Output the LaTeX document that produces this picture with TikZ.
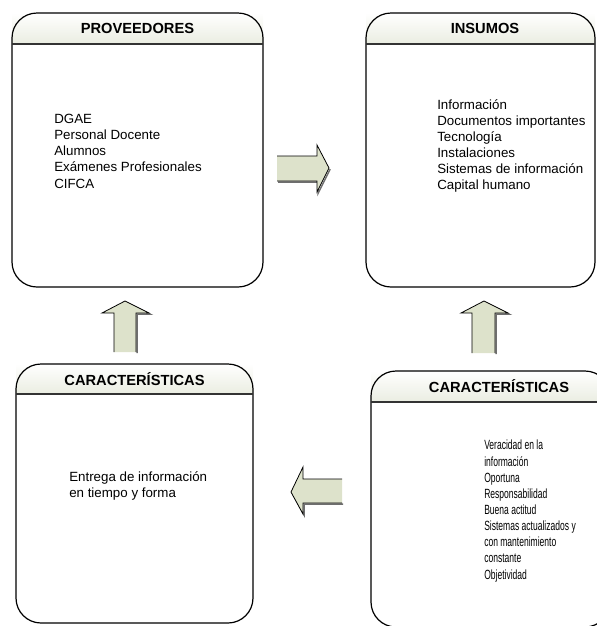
\documentclass[tikz,border=0pt]{standalone}
\usepackage{fontspec}
\setmainfont{Liberation Sans}
\newfontfamily\estrecha[FakeStretch=0.64]{Liberation Sans}
\definecolor{relleno}{RGB}{221,226,203}
\definecolor{encabezado}{RGB}{234,237,225}
\definecolor{sombra}{RGB}{110,110,110}
\tikzset{
  caja/.style={draw=black, line width=0.9pt, rounded corners=18.75pt},
  divisor/.style={draw=black!80, line width=1pt},
  titulo/.style={font=\bfseries\fontsize{11}{13}\selectfont, inner sep=0pt},
  lista/.style={font=\fontsize{10}{12.1}\selectfont, align=left, anchor=north west, inner sep=0pt},
  lista estrecha/.style={lista, font=\estrecha\fontsize{10}{12.1}\selectfont},
  flecha/.style={fill=relleno},
  borde/.style={draw=black, line width=0.6pt, line join=miter},
  borde sombra/.style={draw=sombra, line width=1.1pt, shift={(1.2,1.2)}}
}
\begin{document}
\begin{tikzpicture}[x=0.75pt, y=-0.75pt]
  \useasboundingbox (0,0) rectangle (597,626);
  \clip (0,0) rectangle (597,626);
  % encabezados
  \shade[top color=white, bottom color=encabezado] (12,13) rectangle (263,44);
  \shade[top color=white, bottom color=encabezado] (366,13) rectangle (595,44);
  \shade[top color=white, bottom color=encabezado] (16,364) rectangle (253,394);
  \shade[top color=white, bottom color=encabezado] (371,371) rectangle (610,402);
  % cajas
  \draw[caja] (12,13) rectangle (263,287);
  \draw[divisor] (12,44) -- (263,44);
  \draw[caja] (366,13) rectangle (595,287);
  \draw[divisor] (366,44) -- (595,44);
  \draw[caja] (16,364) rectangle (253,623);
  \draw[divisor] (16,394) -- (253,394);
  \draw[caja] (371,371) rectangle (610,627);
  \draw[divisor] (371,402) -- (610,402);
  % titulos
  \node[titulo] (tprov) at (137.5,28.5) {PROVEEDORES};
  \node[titulo] (tins) at (485,28.5) {INSUMOS};
  \node[titulo] (tcar1) at (134.5,379.5) {CARACTERÍSTICAS};
  \node[titulo] (tcar2) at (499,386) {CARACTERÍSTICAS};
  % contenido
  \node[lista] (prov) at (54,114) {DGAE\\Personal Docente\\Alumnos\\Exámenes Profesionales\\CIFCA};
  \node[lista] (ins) at (437,99) {Información\\Documentos importantes\\Tecnología\\Instalaciones\\Sistemas de información\\Capital humano};
  \node[lista] (car1) at (69,471) {Entrega de información\\en tiempo y forma};
  \node[lista estrecha] (car2) at (484,440) {Veracidad en la\\información\\Oportuna\\Responsabilidad\\Buena actitud\\Sistemas actualizados y\\con mantenimiento\\constante\\Objetividad};
  % flecha derecha
  \draw[borde sombra] (277,181) -- (317,181) -- (317,192) -- (329,168);
  \fill[flecha] (277,156) -- (317,156) -- (317,145) -- (329,168) -- (317,192) -- (317,181) -- (277,181) -- cycle;
  \draw[borde] (277,156) -- (317,156) -- (317,145) -- (329,168) -- (317,192) -- (317,181) -- (277,181);
  % flecha arriba izquierda
  \draw[borde sombra] (136,352) -- (136,313) -- (149,313) -- (125,301);
  \fill[flecha] (114,352) -- (114,313) -- (102,313) -- (125,301) -- (149,313) -- (136,313) -- (136,352) -- cycle;
  \draw[borde] (114,352) -- (114,313) -- (102,313) -- (125,301) -- (149,313) -- (136,313) -- (136,352);
  % flecha arriba derecha
  \draw[borde sombra] (495,353) -- (495,313) -- (508,313) -- (484,301);
  \fill[flecha] (472,353) -- (472,313) -- (461,313) -- (484,301) -- (508,313) -- (495,313) -- (495,353) -- cycle;
  \draw[borde] (472,353) -- (472,313) -- (461,313) -- (484,301) -- (508,313) -- (495,313) -- (495,353);
  % flecha izquierda
  \draw[borde sombra] (342,503) -- (303,503) -- (303,514) -- (291,492);
  \fill[flecha] (342,479) -- (303,479) -- (303,467) -- (291,492) -- (303,514) -- (303,503) -- (342,503) -- cycle;
  \draw[borde] (342,479) -- (303,479) -- (303,467) -- (291,492) -- (303,514) -- (303,503) -- (342,503);
\end{tikzpicture}
\end{document}
